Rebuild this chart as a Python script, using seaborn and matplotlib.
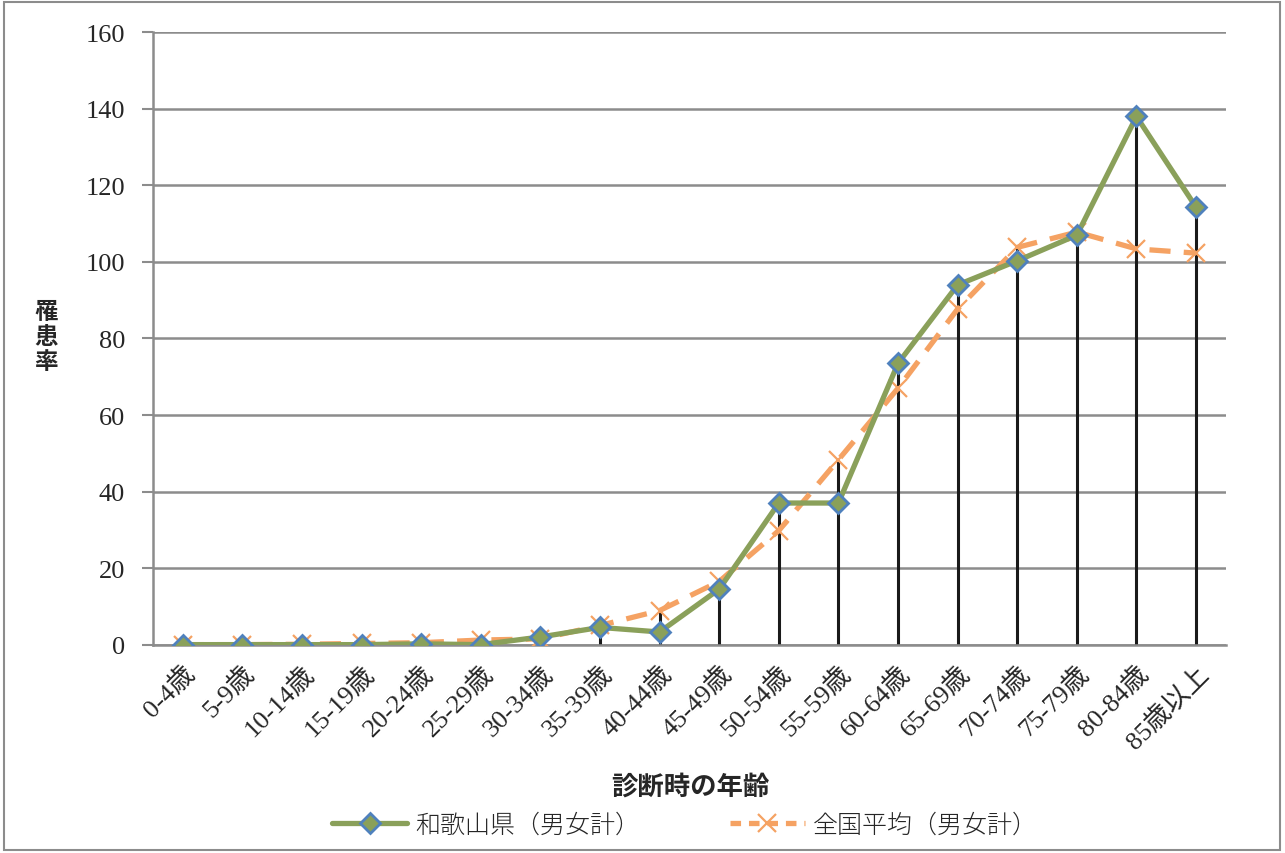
import numpy as np
import pandas as pd
import matplotlib.pyplot as plt
import seaborn as sns
from matplotlib.patches import Rectangle
from matplotlib.lines import Line2D

# 年齢階級
ages = ['0-4歳', '5-9歳', '10-14歳', '15-19歳', '20-24歳', '25-29歳', '30-34歳',
        '35-39歳', '40-44歳', '45-49歳', '50-54歳', '55-59歳', '60-64歳',
        '65-69歳', '70-74歳', '75-79歳', '80-84歳', '85歳以上']
wakayama = [0, 0, 0, 0, 0.2, 0, 2.0, 4.5, 3.3, 14.5, 37.0, 37.0, 73.5,
            94.0, 100.3, 107.0, 138.0, 114.3]
national = [0, 0, 0.1, 0.3, 0.5, 1.2, 1.5, 5.0, 8.9, 16.5, 29.8, 48.3, 67.0,
            87.7, 103.8, 107.8, 103.4, 102.3]

label_w = '和歌山県（男女計）'
label_n = '全国平均（男女計）'

df = pd.DataFrame({'age': ages, 'wakayama': wakayama, 'national': national})

sns.set_style('white')
plt.rcParams['font.family'] = ['Liberation Serif', 'Noto Sans CJK JP']

green = '#8AA05A'
blue = '#4F81BD'
orange = '#F5A263'
grid_c = '#8C8C8C'

fig, ax = plt.subplots(figsize=(12.85, 8.54), dpi=100)
fig.subplots_adjust(left=0.119, right=0.954, top=0.961, bottom=0.244)

# 降下線
pos = np.arange(len(ages))
ax.vlines(pos, 0, np.maximum(df['wakayama'], df['national']), color='#1a1a1a', lw=2.2, zorder=2)

sns.lineplot(data=df, x='age', y='wakayama', ax=ax, color=green, lw=3.8, marker='D',
             markersize=10, markerfacecolor=green, markeredgecolor=blue, markeredgewidth=2,
             sort=False, zorder=4)
sns.lineplot(data=df, x='age', y='national', ax=ax, color=orange, lw=3.8, dashes=(4, 2.5),
             marker='x', markersize=13, markeredgecolor=orange, markeredgewidth=1.6,
             sort=False, zorder=3)

ax.set_xlim(-0.5, len(ages) - 0.5)
ax.set_ylim(0, 160)
ax.set_yticks(range(0, 161, 20))
ax.yaxis.grid(True, color=grid_c, lw=1.8)
ax.set_axisbelow(True)
for s in ['top', 'right']:
    ax.spines[s].set_visible(False)
ax.spines['left'].set_color(grid_c)
ax.spines['left'].set_linewidth(1.8)
ax.spines['bottom'].set_color(grid_c)
ax.spines['bottom'].set_linewidth(1.8)
ax.tick_params(axis='y', left=True, length=8, width=1.5, color=grid_c, labelsize=19, pad=12)
ax.tick_params(axis='x', bottom=False, labelsize=19, pad=8)
ax.set_xticks(pos)
ax.set_xticklabels(ages, rotation=45, ha='right', rotation_mode='anchor')
ax.set_xlabel('')
ax.set_ylabel('')

fig.text(0.036, 0.605, '罹\n患\n率', ha='center', va='center', fontsize=17,
         fontweight='bold', family=['Noto Sans CJK JP'], linespacing=1.05)
fig.text(0.537, 0.078, '診断時の年齢', ha='center', va='center', fontsize=19,
         fontweight='bold', family=['Noto Sans CJK JP'])

handles = [
    Line2D([], [], color=green, lw=3.8, marker='D', markersize=10, markerfacecolor=green,
           markeredgecolor=blue, markeredgewidth=2),
    Line2D([], [], color=orange, lw=3.8, dashes=(2, 1.5), marker='x', markersize=13,
           markeredgecolor=orange, markeredgewidth=1.6),
]
fig.legend(handles, [label_w, label_n], loc='center', bbox_to_anchor=(0.533, 0.033),
           ncol=2, frameon=False, columnspacing=3.6, handlelength=3.0, handletextpad=0.3,
           prop={'family': ['Noto Sans CJK JP'], 'size': 18, 'weight': 'light'})

fig.patches.append(Rectangle((0.003, 0.003), 0.993, 0.993, transform=fig.transFigure,
                             fill=False, edgecolor='#8C8C8C', lw=1.5))

fig.savefig('out.png', dpi=100)
